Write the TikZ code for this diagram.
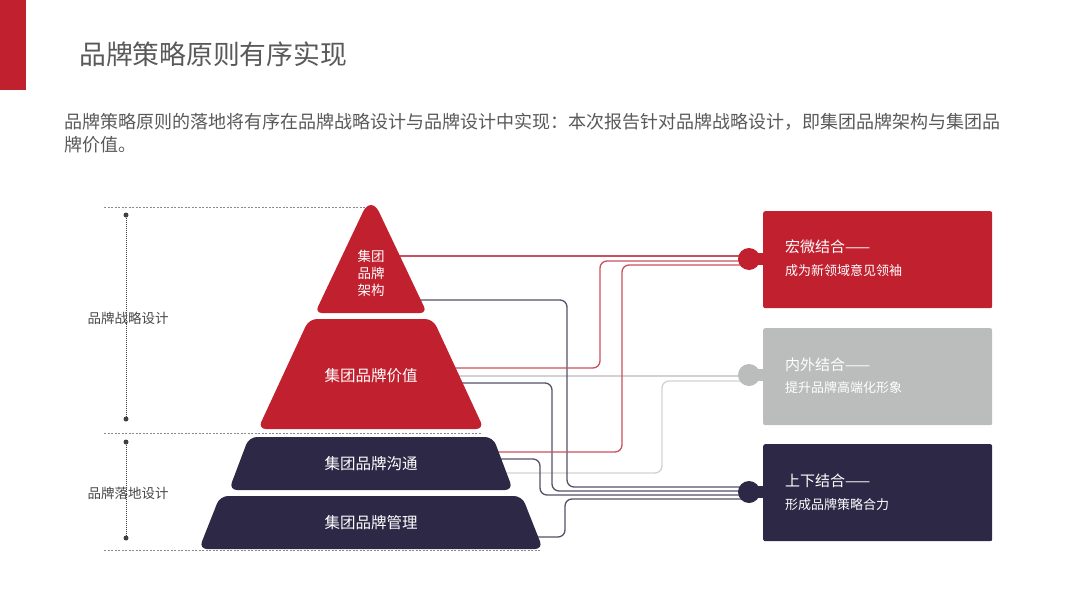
\documentclass[tikz,border=0pt]{standalone}
\usepackage{fontspec}
\setmainfont{Noto Sans CJK SC}
\usetikzlibrary{calc}
\definecolor{brandred}{HTML}{C1202F}
\definecolor{navy}{HTML}{2D2846}
\definecolor{lgray}{HTML}{BBBCBC}
\definecolor{txtgray}{HTML}{595959}
\definecolor{redln}{HTML}{C9505C}
\definecolor{navyln}{HTML}{555168}
\definecolor{grayln}{HTML}{D2D2D2}
\definecolor{dashgray}{HTML}{8A8A8A}
\begin{document}
\begin{tikzpicture}[x=1pt,y=-1pt,
  level/.style={rounded corners=8pt},
  conn/.style={line width=1.3pt, rounded corners=7pt},
  knob/.style={circle, minimum size=22pt, inner sep=0pt},
  infobox/.style={rounded corners=2pt, minimum width=229pt, minimum height=97pt, inner sep=0pt, anchor=north west},
  boxtitle/.style={anchor=west, text=white, inner sep=0pt, font=\fontsize{15}{18}\selectfont},
  boxsub/.style={anchor=west, text=white, inner sep=0pt, font=\fontsize{13}{16}\selectfont},
  pyrtext/.style={text=white, inner sep=0pt, font=\fontsize{15.5}{19}\selectfont},
  sidelabel/.style={text=txtgray!80!black, inner sep=0pt, font=\fontsize{13.5}{16}\selectfont},
  hdash/.style={dashgray, line width=1pt, dash pattern=on 2pt off 1.5pt},
  vdot/.style={black!75, line width=1pt, dash pattern=on 1pt off 1pt},
  enddot/.style={circle, fill=black!75, minimum size=5pt, inner sep=0pt}
]
\useasboundingbox (0,0) rectangle (1080,608);

% header
\fill[brandred] (0,0) rectangle (26,90);
\node[anchor=west, text=txtgray, inner sep=0pt, font=\fontsize{26.8}{30}\selectfont] (title) at (79,54) {品牌策略原则有序实现};
\node[anchor=west, text=txtgray, inner sep=0pt, font=\fontsize{18}{23}\selectfont] (para1) at (64,122) {品牌策略原则的落地将有序在品牌战略设计与品牌设计中实现：本次报告针对品牌战略设计，即集团品牌架构与集团品};
\node[anchor=west, text=txtgray, inner sep=0pt, font=\fontsize{18}{23}\selectfont] (para2) at (64,145) {牌价值。};

% dashed guides
\draw[hdash] (104,207) -- (367,207);
\draw[hdash] (104,433) -- (482,433);
\draw[hdash] (104,550) -- (540,550);

% vertical dotted brackets
\node[enddot] (d1a) at (126,215) {};
\node[enddot] (d1b) at (126,419) {};
\node[enddot] (d2a) at (126,442) {};
\node[enddot] (d2b) at (126,538) {};
\draw[vdot] (d1a) -- (d1b);
\draw[vdot] (d2a) -- (d2b);
\node[sidelabel] (lab1) at (128,318) {品牌战略设计};
\node[sidelabel] (lab2) at (128,493) {品牌落地设计};

% right boxes
\node[infobox, fill=brandred] (b1) at (763,211) {};
\node[infobox, fill=lgray] (b2) at (763,328) {};
\node[infobox, fill=navy] (b3) at (763,444) {};

\node[boxtitle] (t1) at (785,247) {宏微结合——};
\node[boxsub] (s1) at (785,271) {成为新领域意见领袖};
\node[boxtitle] (t2) at (785,365) {内外结合——};
\node[boxsub] (s2) at (785,388) {提升品牌高端化形象};
\node[boxtitle] (t3) at (785,481) {上下结合——};
\node[boxsub] (s3) at (785,505) {形成品牌策略合力};

% knob centres
\coordinate (k1) at (749,259);
\coordinate (k2) at (749,375);
\coordinate (k3) at (749,492);

% connector start points (inside pyramid levels)
\coordinate (r1) at (380,256);
\coordinate (r2) at (400,368);
\coordinate (r3) at (440,452);
\coordinate (g1) at (400,376);
\coordinate (g2) at (450,473);
\coordinate (n1) at (400,300);
\coordinate (n2) at (420,383);
\coordinate (n3) at (460,459);
\coordinate (n4) at (480,537);

% connectors
\draw[conn, grayln] (g1) -- (g1 -| k2);
\draw[conn, grayln] (g2) -- (662,473) |- ($(k2)+(0,6)$);
\draw[conn, navyln] (n1) -- (567,300) |- ($(k3)+(0,-5)$);
\draw[conn, navyln] (n2) -- (552,383) |- ($(k3)+(0,-1)$);
\draw[conn, navyln] (n3) -- (540,459) |- ($(k3)+(0,3)$);
\draw[conn, navyln] (n4) -- (565,537) |- ($(k3)+(0,7)$);
\draw[conn, redln] (r1) -- (r1 -| k1);
\draw[conn, redln] (r2) -- (600,368) |- ($(k1)+(0,2)$);
\draw[conn, redln] (r3) -- (622,452) |- ($(k1)+(0,6)$);

% knobs (drawn over the connector ends)
\node[knob, fill=brandred] (kn1) at (k1) {};
\node[knob, fill=lgray] (kn2) at (k2) {};
\node[knob, fill=navy] (kn3) at (k3) {};
\fill[brandred] (749,253) rectangle (765,265);
\fill[lgray] (749,369) rectangle (765,381);
\fill[navy] (749,486) rectangle (765,498);

% pyramid (paths start mid-edge so every corner is rounded)
\fill[brandred] (371,313) [rounded corners=7pt] -- (315,313) [rounded corners=19pt] -- (371,195) [rounded corners=7pt] -- (427,313) -- cycle;
\fill[brandred, level] (371,429) -- (258,429) -- (309,319) -- (433,319) -- (484,429) -- cycle;
\fill[navy, level] (371,490) -- (229,490) -- (249,437) -- (493,437) -- (513,490) -- cycle;
\fill[navy, level] (371,549) -- (199,549) -- (220,496) -- (522,496) -- (543,549) -- cycle;

\node[pyrtext, align=center, font=\fontsize{13.5}{17}\selectfont] (p1) at (371,273) {集团\\品牌\\架构};
\node[pyrtext] (p2) at (371,376) {集团品牌价值};
\node[pyrtext] (p3) at (371,464) {集团品牌沟通};
\node[pyrtext] (p4) at (371,523) {集团品牌管理};
\end{tikzpicture}
\end{document}
